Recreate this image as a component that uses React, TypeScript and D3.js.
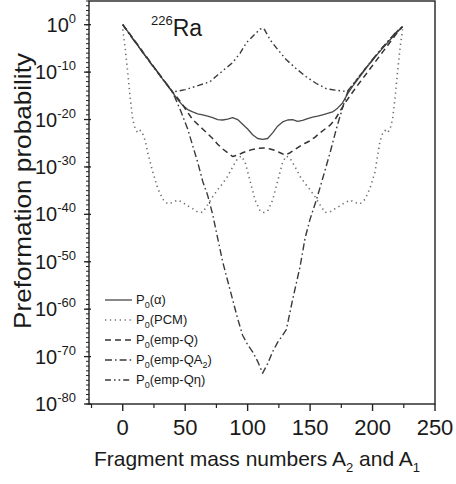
import React from 'react';
import * as d3 from 'd3';

const W = 456;
const H = 484;

// Fragment mass numbers (A2 then A1) and log10 of preformation probability
const alphaA = [0,4,8,12,16,20,24,28,32,36,40,44,48,52,56,60,64,68,72,76,80,84,88,92,96,100,104,108,112,116,120,124,128,132,136,140,144,148,152,156,160,164,168,172,176,180,184,188,192,196,200,204,208,212,216,220,224];
const alphaE = [0,-1.4,-2.9,-4.3,-5.9,-7.2,-8.7,-10,-11.5,-12.8,-14.3,-15.8,-17,-17.9,-18.4,-18.8,-19,-19.3,-19.6,-20,-20.1,-19.9,-19.6,-20,-21,-22,-23.2,-24,-24.2,-24,-22.8,-21.4,-20.5,-20.1,-20,-20.4,-20.2,-19.8,-19.5,-19.3,-19,-18.7,-18.4,-17.6,-16.5,-14.6,-13,-11.6,-10.2,-8.8,-7.5,-6.2,-5,-3.8,-2.6,-1.5,-0.5];

const pcmA = [0,2,4,6,8,10,12,14,16,18,20,24,28,32,36,40,44,48,52,56,60,64,68,72,76,80,84,88,92,95,98,102,106,110,113,116,120,124,128,131,134,138,142,146,150,154,158,162,166,170,174,178,182,186,190,194,198,202,206,208,210,212,214,216,218,220,222,224];
const pcmE = [-1,-5,-10,-15.5,-20,-22,-22.8,-22.3,-23,-24.5,-27,-31,-34.5,-36.8,-37.8,-37.5,-37,-37.5,-38.2,-38.8,-39.5,-39.6,-38,-36.3,-34.8,-33.5,-32,-30,-28.2,-27.7,-29,-33,-37,-39.3,-39.6,-39.3,-37,-33,-29,-27.7,-28.2,-30,-32,-33.5,-34.8,-36.3,-38,-39.6,-39.5,-38.8,-38.2,-37.5,-37,-37.5,-37.8,-36.8,-34.5,-31,-24.5,-23,-22.3,-22.8,-22,-20,-15.5,-10,-5,-1];

const empQA = [0,4,8,12,16,20,24,28,32,36,40,44,48,52,56,60,64,68,72,76,80,84,88,92,96,100,104,108,113,118,122,126,130,134,138,142,146,150,154,158,162,166,170,174,178,182,186,190,194,198,202,206,210,214,218,222,224];
const empQE = [0,-1.3,-2.8,-4.2,-5.7,-7.1,-8.6,-10,-11.4,-12.8,-14.2,-15.5,-16.9,-18.5,-20,-21,-22,-23,-24,-25.2,-26.2,-27,-27.8,-27.5,-27,-26.6,-26.3,-26.1,-26,-26.2,-26.5,-27,-27.5,-27,-26.3,-25.6,-25,-24.5,-23.7,-22.8,-22,-21.2,-20,-18.2,-16.5,-15,-13.5,-12.1,-10.7,-9.3,-7.9,-6.5,-5.1,-3.7,-2.3,-0.9,-0.4];

const empQA2A = [0,4,8,12,16,20,24,28,32,36,40,46,52,56,60,64,68,72,76,80,84,88,92,96,100,104,108,112,116,120,124,128,131,136,142,146,150,155,160,166,171,176,180,184,188,192,196,200,204,208,212,216,220,224];
const empQA2E = [0,-1.5,-3,-4.4,-5.8,-7.3,-8.7,-10.1,-11.5,-12.9,-14.3,-17.9,-22,-25.5,-29,-33,-36,-40,-45,-50,-54,-58,-62,-65.5,-67.5,-69,-71,-73.5,-71.5,-69,-67,-65.5,-64.3,-58,-51,-45,-41,-37,-32.5,-27,-22,-17.5,-14.2,-12.8,-11.4,-10,-8.6,-7.3,-6,-4.8,-3.6,-2.4,-1.3,-0.4];

const empQetaA = [0,4,8,12,16,20,24,28,32,36,40,44,50,56,62,70,76,82,88,94,99,104,110,113,118,124,131,139,147,155,163,170,176,180,184,188,192,196,200,204,208,212,216,220,224];
const empQetaE = [0,-1.5,-2.9,-4.4,-5.8,-7.2,-8.6,-10,-11.4,-12.8,-14.2,-14,-13.7,-13.2,-12.7,-12,-10.6,-9.3,-8,-6,-3.8,-2.5,-0.9,-0.8,-3.2,-5.2,-7.4,-9.3,-11,-12.4,-13.5,-13.8,-14,-14,-12.7,-11.3,-10,-8.7,-7.4,-6.1,-4.8,-3.6,-2.4,-1.3,-0.4];

const xTicks = [0, 50, 100, 150, 200, 250];
const xMinorTicks = [-25, 25, 75, 125, 175, 225];
const yTickExps = [0, -10, -20, -30, -40, -50, -60, -70, -80];

const legendLabels = ['(\u03b1)', '(PCM)', '(emp-Q)', '(emp-QA', '(emp-Q\u03b7)'];

const series = [
  { a: alphaA, e: alphaE, dash: 'none', color: '#4a4a4a', width: 1.3 },
  { a: pcmA, e: pcmE, dash: '1.3,3.6', color: '#6e6e6e', width: 1.6 },
  { a: empQA, e: empQE, dash: '6,4', color: '#333', width: 1.5 },
  { a: empQA2A, e: empQA2E, dash: '7,3,1.6,3', color: '#3a3a3a', width: 1.4 },
  { a: empQetaA, e: empQetaE, dash: '6,3,1.6,3,1.6,3', color: '#3a3a3a', width: 1.4 },
];

const FONT = '"Liberation Sans", Arial, sans-serif';

export default function App() {
  const left = 89, right = 435, top = 1, bottom = 404;
  const x = d3.scaleLinear().domain([-27, 250]).range([left, right]);
  const y = d3.scaleLog().domain([1e-80, 1e5]).range([bottom, top]);

  const line = d3
    .line<[number, number]>()
    .x((d) => x(d[0]))
    .y((d) => y(Math.pow(10, d[1])));

  const minorExps = d3.range(-80, 6);

  return (
    <svg
      width={W}
      height={H}
      style={{ position: 'absolute', left: 0, top: 0, background: '#fff' }}
      fontFamily={FONT}
    >
      <rect x={0} y={0} width={W} height={H} fill="#fff" />
      {/* curves */}
      <g fill="none" strokeLinejoin="round">
        {series.map((s, i) => (
          <path
            key={i}
            d={line(s.a.map((a, j) => [a, s.e[j]] as [number, number])) || ''}
            stroke={s.color}
            strokeWidth={s.width}
            strokeDasharray={s.dash}
          />
        ))}
      </g>

      {/* frame */}
      <rect x={left} y={top} width={right - left} height={bottom - top} fill="none" stroke="#222" strokeWidth={1.4} />

      {/* y ticks */}
      <g stroke="#222" strokeWidth={1}>
        {minorExps.map((e) => (
          <line key={'ym' + e} x1={left - 3} x2={left} y1={y(Math.pow(10, e))} y2={y(Math.pow(10, e))} />
        ))}
        {yTickExps.map((e) => (
          <line key={'yM' + e} x1={left - 5} x2={left + 2} y1={y(Math.pow(10, e))} y2={y(Math.pow(10, e))} strokeWidth={1.3} />
        ))}
      </g>
      {yTickExps.map((e) => (
        <text key={'yl' + e} x={76} y={y(Math.pow(10, e)) + 7} textAnchor="end" fontSize={20} fill="#1a1a1a">
          10
          <tspan dy={-9} fontSize={13}>{String(e)}</tspan>
        </text>
      ))}

      {/* x ticks */}
      <g stroke="#222">
        {xTicks.map((t) => (
          <line key={'xM' + t} x1={x(t)} x2={x(t)} y1={bottom} y2={bottom + 7} strokeWidth={1.4} />
        ))}
        {xMinorTicks.map((t) => (
          <line key={'xm' + t} x1={x(t)} x2={x(t)} y1={bottom} y2={bottom + 4} strokeWidth={1.2} />
        ))}
      </g>
      {xTicks.map((t) => (
        <text key={'xl' + t} x={x(t)} y={435} textAnchor="middle" fontSize={22} fill="#1a1a1a">
          {t}
        </text>
      ))}

      {/* axis titles */}
      <text x={257} y={466} fontSize={21} fill="#1a1a1a" textAnchor="middle">
        Fragment mass numbers A<tspan dy={6} fontSize={13}>2</tspan>
        <tspan dy={-6}> and A</tspan>
        <tspan dy={6} fontSize={13}>1</tspan>
      </text>
      <text
        transform="translate(31,191) rotate(-90)"
        textAnchor="middle"
        fontSize={24}
        fill="#1a1a1a"
        textLength={276}
        lengthAdjust="spacingAndGlyphs"
      >
        Preformation probability
      </text>

      {/* nucleus label */}
      <text x={151} y={36} fontSize={23} fill="#1a1a1a">
        <tspan fontSize={13} dy={-11}>226</tspan>
        <tspan dy={11}>Ra</tspan>
      </text>

      {/* legend */}
      {series.map((s, i) => {
        const ly = 300 + i * 20;
        return (
          <g key={'lg' + i}>
            <line x1={105} x2={132} y1={ly} y2={ly} stroke={s.color} strokeWidth={s.width} strokeDasharray={s.dash} />
            <text x={136} y={ly + 4} fontSize={13} fill="#1a1a1a">
              P<tspan dy={4} fontSize={9}>0</tspan>
              <tspan dy={-4}>{legendLabels[i]}</tspan>
              {i === 3 ? (
                <>
                  <tspan dy={4} fontSize={9}>2</tspan>
                  <tspan dy={-4}>)</tspan>
                </>
              ) : null}
            </text>
          </g>
        );
      })}
    </svg>
  );
}
